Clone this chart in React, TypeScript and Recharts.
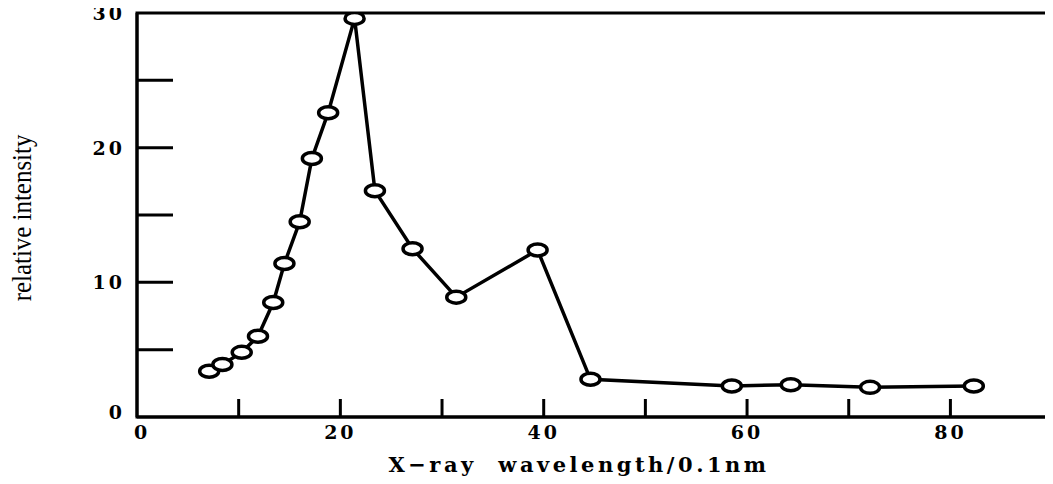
import React from 'react';
import { LineChart, Line, XAxis, YAxis, ReferenceArea } from 'recharts';

// wavelength (0.1 nm) and relative intensity
const wavelength = [7.1, 8.4, 10.3, 11.9, 13.4, 14.5, 16.0, 17.2, 18.8, 21.4, 23.4, 27.1, 31.4, 39.4, 44.6, 58.5, 64.3, 72.1, 82.3];
const intensity = [3.4, 3.9, 4.8, 6.0, 8.5, 11.4, 14.5, 19.2, 22.6, 29.6, 16.8, 12.5, 8.9, 12.4, 2.8, 2.3, 2.4, 2.2, 2.3];

const xTicks = [0, 10, 20, 30, 40, 50, 60, 70, 80];
const xLabels = [0, 20, 40, 60, 80];
const yTicks = [0, 5, 10, 15, 20, 25, 30];
const yLabels = [0, 10, 20, 30];

const data = wavelength.map((w, i) => ({ w, v: intensity[i] }));

const tickFont = { fontFamily: '"DejaVu Serif", serif', fontWeight: 700, fontSize: 19 };

const XTick = (props: any) => {
  const { x, y, payload } = props;
  const v = payload.value;
  return (
    <g>
      {v !== 0 && <line x1={x} y1={y} x2={x} y2={y - 18} stroke="#000" strokeWidth={3} />}
      {xLabels.includes(v) && (
        <text x={x + (v === 0 ? 5 : 0)} y={y + 22} textAnchor="middle" fill="#000" {...tickFont} letterSpacing={3}>
          {v}
        </text>
      )}
    </g>
  );
};

const YTick = (props: any) => {
  const { x, y, payload } = props;
  const v = payload.value;
  return (
    <g>
      {v !== 0 && v !== 30 && <line x1={x} y1={y} x2={x + 36} y2={y} stroke="#000" strokeWidth={3} />}
      {yLabels.includes(v) && (
        <text x={x - 12} y={y + 7 - (v === 0 ? 5 : 0)} textAnchor="end" fill="#000" {...tickFont} letterSpacing={3}>
          {v}
        </text>
      )}
    </g>
  );
};

const Marker = (props: any) => {
  const { cx, cy } = props;
  return <ellipse cx={cx} cy={cy} rx={9.5} ry={6} fill="#fff" stroke="#000" strokeWidth={3.5} />;
};

export default function App() {
  return (
    <div style={{ background: '#fff', margin: '-8px 0 0 -8px', width: 1053 }}>
      <LineChart width={1053} height={484} data={data} margin={{ top: 13, right: 6, bottom: 0, left: 0 }}>
        <XAxis
          dataKey="w"
          type="number"
          domain={[0, 89.5]}
          ticks={xTicks}
          interval={0}
          height={67}
          tickSize={0}
          tickMargin={0}
          tickLine={false}
          axisLine={{ stroke: '#000', strokeWidth: 3 }}
          tick={<XTick />}
          allowDataOverflow
          label={{
            content: (p: any) => {
              const vb = p.viewBox;
              return (
                <text
                  x={vb.x + vb.width / 2 - 13}
                  y={vb.y + 55}
                  textAnchor="middle"
                  fill="#000"
                  fontFamily='"DejaVu Serif", serif'
                  fontWeight={700}
                  fontSize={21}
                  letterSpacing={3.5}
                  style={{ whiteSpace: 'pre' }}
                >
                  {'X−ray  wavelength/0.1nm'}
                </text>
              );
            },
          }}
        />
        <YAxis
          dataKey="v"
          type="number"
          domain={[0, 30]}
          ticks={yTicks}
          interval={0}
          width={137}
          tickSize={0}
          tickMargin={0}
          tickLine={false}
          axisLine={{ stroke: '#000', strokeWidth: 3 }}
          tick={<YTick />}
          allowDataOverflow
          label={{
            content: (p: any) => {
              const vb = p.viewBox;
              const cx = vb.x + 21;
              const cy = 218;
              return (
                <text
                  x={0}
                  y={0}
                  transform={`translate(${cx} ${cy}) rotate(-90) scale(0.89 1)`}
                  textAnchor="middle"
                  dominantBaseline="central"
                  fill="#000"
                  fontFamily='"Liberation Serif", serif'
                  fontSize={28}
                >
                  relative intensity
                </text>
              );
            },
          }}
        />
        <ReferenceArea x1={0} x2={89.5} y1={0} y2={30} fill="none" stroke="#000" strokeWidth={3} />
        <Line
          type="linear"
          dataKey="v"
          stroke="#000"
          strokeWidth={3.5}
          dot={<Marker />}
          activeDot={false}
          isAnimationActive={false}
        />
      </LineChart>
    </div>
  );
}
